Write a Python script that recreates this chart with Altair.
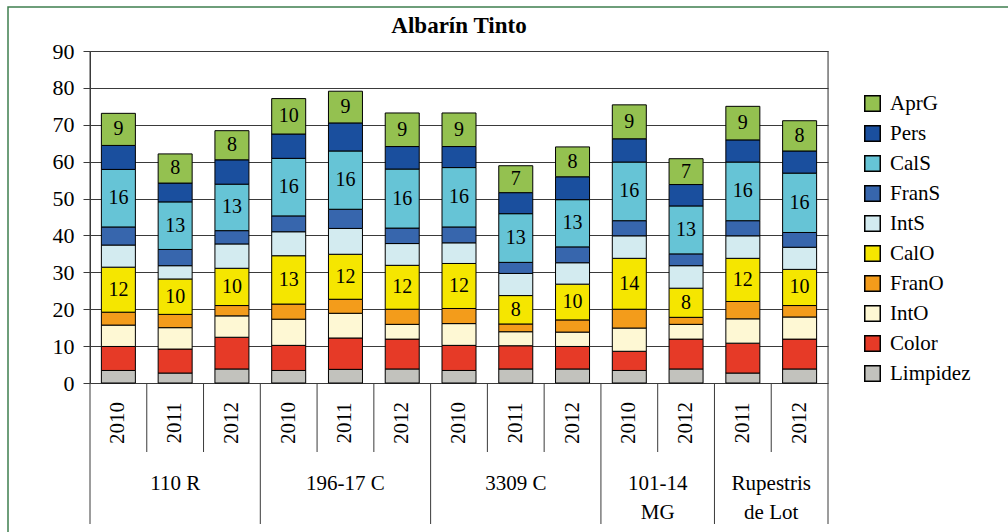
import altair as alt
import pandas as pd

title_text = "Albarín Tinto"

groups = ["110 R", "110 R", "110 R",
          "196-17 C", "196-17 C", "196-17 C",
          "3309 C", "3309 C", "3309 C",
          "101-14\nMG", "101-14\nMG",
          "Rupestris\nde Lot", "Rupestris\nde Lot"]
years = ["2010", "2011", "2012", "2010", "2011", "2012", "2010", "2011", "2012",
         "2010", "2012", "2011", "2012"]

# series listed bottom -> top of each stack
series_names = ["Limpidez", "Color", "IntO", "FranO", "CalO", "IntS", "FranS", "CalS", "Pers", "AprG"]
series_colors = ["#c2c2bd", "#e63a27", "#fef8d4", "#f39c1b", "#f5e600",
                 "#d3ebf0", "#3766ad", "#66c4d6", "#1a4f9e", "#94c150"]

Limpidez = [3.4, 2.7, 3.8, 3.4, 3.7, 3.8, 3.4, 3.8, 3.8, 3.4, 3.8, 2.7, 3.8]
Color = [6.5, 6.5, 8.6, 6.8, 8.5, 8.1, 6.8, 6.3, 6.1, 5.2, 8.1, 8.1, 8.1]
IntO = [5.8, 5.8, 5.8, 7.1, 6.7, 4.0, 5.9, 3.8, 3.9, 6.3, 4.0, 6.6, 6.0]
FranO = [3.5, 3.6, 2.8, 4.1, 3.8, 4.1, 4.1, 2.1, 3.3, 5.1, 1.9, 4.7, 3.1]
CalO = [12.2, 9.6, 10.1, 13.1, 12.2, 11.9, 12.2, 7.7, 9.7, 13.8, 7.9, 11.7, 9.8]
IntS = [6.0, 3.6, 6.6, 6.5, 7.0, 5.9, 5.6, 6.0, 5.8, 6.1, 6.1, 6.1, 6.0]
FranS = [4.9, 4.4, 3.6, 4.3, 5.2, 4.2, 4.3, 3.0, 4.3, 4.1, 3.2, 4.1, 4.0]
CalS = [15.6, 12.9, 12.6, 15.6, 15.8, 16.0, 16.1, 13.2, 12.8, 15.9, 13.0, 15.9, 16.1]
Pers = [6.5, 5.1, 6.6, 6.6, 7.6, 6.1, 5.7, 5.7, 6.2, 6.3, 5.8, 6.0, 6.0]
AprG = [8.7, 7.9, 7.9, 9.6, 8.6, 9.1, 9.1, 7.3, 8.1, 9.2, 7.0, 9.1, 8.2]

series_values = [Limpidez, Color, IntO, FranO, CalO, IntS, FranS, CalS, Pers, AprG]
labelled = ["CalO", "CalS", "AprG"]

FONT = "Liberation Serif"
W, H = 738, 332

# ---- build tables from the arrays ----
rows = []
for i in range(len(years)):
    base = 0.0
    for name, vals in zip(series_names, series_values):
        v = vals[i]
        rows.append({"pos": i + 0.5, "series": name, "y0": base, "y1": base + v,
                     "mid": base + v / 2, "val": v,
                     "lab": str(round(v)) if name in labelled else ""})
        base += v
bars_df = pd.DataFrame(rows)

years_df = pd.DataFrame({"pos": [i + 0.5 for i in range(len(years))], "year": years})

group_rows = []
start = 0
for i in range(1, len(groups) + 1):
    if i == len(groups) or groups[i] != groups[start]:
        group_rows.append({"name": groups[start], "center": (start + i) / 2, "start": start, "end": i})
        start = i
groups_df = pd.DataFrame(group_rows)

edge_b = [0, len(years)]
group_b = [g["end"] for g in group_rows[:-1]]
year_b = [i for i in range(1, len(years)) if i not in group_b]

xscale = alt.Scale(domain=[0, len(years)], nice=False, zero=False, padding=0)
yscale = alt.Scale(domain=[0, 90], nice=False, padding=0)

yaxis = alt.Axis(values=list(range(0, 100, 10)), grid=True, gridColor="#3a3a3a",
                 gridWidth=1, domainColor="#3a3a3a", tickColor="#3a3a3a",
                 tickSize=7, labelFont=FONT, labelFontSize=22, labelColor="black",
                 labelPadding=9, labelOverlap=False, labelBound=False,
                 labelFlush=False, title=None)

legend_order = list(reversed(series_names))
legend_colors = list(reversed(series_colors))

bars = alt.Chart(bars_df).mark_bar(stroke="black", strokeWidth=1, width=34).encode(
    x=alt.X("pos:Q", scale=xscale, axis=None),
    y=alt.Y("y0:Q", scale=yscale, axis=yaxis),
    y2="y1:Q",
    color=alt.Color("series:N", scale=alt.Scale(domain=legend_order, range=legend_colors),
                    legend=alt.Legend(title=None, orient="none", legendX=772, legendY=42,
                                      symbolType="square", symbolSize=240,
                                      symbolStrokeColor="black", symbolStrokeWidth=1.5,
                                      symbolOpacity=1,
                                      labelFont=FONT, labelFontSize=21, labelColor="black",
                                      rowPadding=7, labelOffset=7)),
)

seg_text = alt.Chart(bars_df).transform_filter(alt.datum.lab != "").mark_text(
    font=FONT, fontSize=20, color="black", baseline="middle", align="center").encode(
    x=alt.X("pos:Q", scale=xscale, axis=None),
    y=alt.Y("mid:Q", scale=yscale, axis=yaxis),
    text="lab:N",
)

edge_rules = alt.Chart(pd.DataFrame({"b": edge_b})).mark_rule(color="#3a3a3a", strokeWidth=1).encode(
    x=alt.X("b:Q", scale=xscale, axis=None), y=alt.value(0), y2=alt.value(H + 141))
group_rules = alt.Chart(pd.DataFrame({"b": group_b})).mark_rule(color="#3a3a3a", strokeWidth=1).encode(
    x=alt.X("b:Q", scale=xscale, axis=None), y=alt.value(H), y2=alt.value(H + 141))
year_rules = alt.Chart(pd.DataFrame({"b": year_b})).mark_rule(color="#3a3a3a", strokeWidth=1).encode(
    x=alt.X("b:Q", scale=xscale, axis=None), y=alt.value(H), y2=alt.value(H + 69))

year_text = alt.Chart(years_df).mark_text(
    font=FONT, fontSize=21, color="black", angle=270, align="center", baseline="middle").encode(
    x=alt.X("pos:Q", scale=xscale, axis=None), y=alt.value(H + 40), text="year:N")

group_text = alt.Chart(groups_df).mark_text(
    font=FONT, fontSize=21, color="black", align="center", baseline="alphabetic",
    lineBreak="\n", lineHeight=29).encode(
    x=alt.X("center:Q", scale=xscale, axis=None), y=alt.value(H + 107), text="name:N")

title_mark = alt.Chart(pd.DataFrame({"t": [title_text]})).mark_text(
    font=FONT, fontSize=23, fontWeight="bold", color="black", align="center",
    baseline="alphabetic").encode(
    x=alt.value(W / 2), y=alt.value(-18), text="t:N")

frame = alt.Chart(pd.DataFrame({"k": [0]})).mark_rect(
    fillOpacity=0, stroke="#3f7f4f", strokeWidth=1.5).encode(
    x=alt.value(-82), x2=alt.value(W + 200), y=alt.value(-44), y2=alt.value(H + 170))

chart = alt.layer(frame, bars, seg_text, edge_rules, group_rules, year_rules, year_text,
                  group_text, title_mark).properties(
    width=W, height=H,
    autosize=alt.AutoSizeParams(type="none"),
    padding={"left": 90, "top": 51, "right": 180, "bottom": 149},
).configure_view(stroke=None).configure(background="white", font=FONT)

chart.save("out.html", embed_options={"renderer": "svg", "actions": False})
